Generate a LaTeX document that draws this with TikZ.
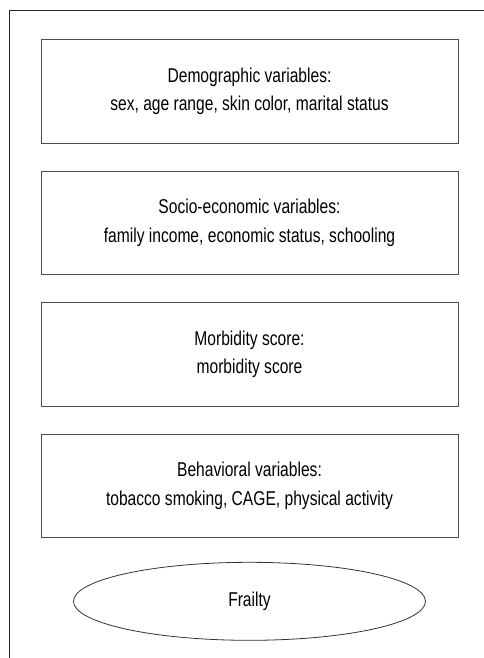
\documentclass[tikz,border=0pt]{standalone}
\usepackage{fontspec}
\setmainfont[FakeStretch=0.78]{Liberation Sans}
\usepackage{tikz}
\usetikzlibrary{positioning,shapes.geometric}

\begin{document}
\begin{tikzpicture}[
          x=1bp, y=-1bp,
          font=\fontsize{20bp}{28.5bp}\selectfont,
          frame/.style={draw=black!85, line width=0.9bp},
          varbox/.style={draw=black!70, line width=0.9bp, minimum width=417bp, minimum height=103.5bp, inner sep=0pt, align=center},
          outcome/.style={ellipse, draw=black!80, line width=0.8bp, minimum width=352bp, minimum height=78bp, inner sep=0pt, align=center}
        ]
          \useasboundingbox (0,0) rectangle (484,658);
          % open frame: top and left edges only
          \draw[frame] (484,10) -| (9,658);

          \node[varbox] (demo) at (249.5,91.5) {Demographic variables:\\sex, age range, skin color, marital status};
          \node[varbox, below=27bp of demo] (socio) {Socio-economic variables:\\family income, economic status, schooling};
          \node[varbox, below=27bp of socio] (morb) {Morbidity score:\\morbidity score};
          \node[varbox, below=27bp of morb] (behav) {Behavioral variables:\\tobacco smoking, CAGE, physical activity};

          \node[outcome, below=24bp of behav] (frailty) {Frailty};
        \end{tikzpicture}
\end{document}
